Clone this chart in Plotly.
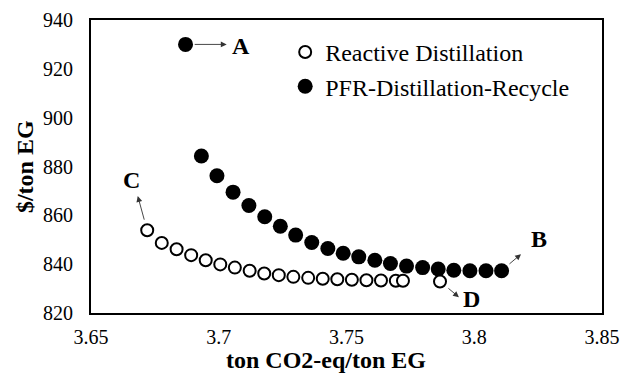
import plotly.graph_objects as go

# ---- data ----
rd_x = [3.6720, 3.6777, 3.6835, 3.6892, 3.6949, 3.7006, 3.7063, 3.7121, 3.7178, 3.7235,
        3.7292, 3.7350, 3.7407, 3.7464, 3.7521, 3.7578, 3.7635, 3.7693, 3.7721, 3.7866]
rd_y = [853.9, 848.7, 846.1, 843.7, 841.6, 839.9, 838.6, 837.3, 836.2, 835.5,
        834.8, 834.4, 834.0, 833.8, 833.6, 833.4, 833.3, 833.2, 833.2, 832.9]

pfr_x = [3.6932, 3.6993, 3.7056, 3.7118, 3.7180, 3.7241, 3.7301, 3.7364, 3.7427, 3.7487,
         3.7548, 3.7611, 3.7672, 3.7735, 3.7798, 3.7859, 3.7920, 3.7983, 3.8046, 3.8107]
pfr_y = [884.3, 876.2, 869.5, 864.0, 859.4, 855.5, 851.9, 848.9, 846.4, 844.5,
         843.0, 841.6, 840.3, 839.2, 838.6, 838.0, 837.5, 837.3, 837.3, 837.3]

point_a_x = [3.687]
point_a_y = [930.0]

x_ticks = [3.65, 3.70, 3.75, 3.80, 3.85]
x_tick_labels = ["3.65", "3.7", "3.75", "3.8", "3.85"]
y_ticks = [820, 840, 860, 880, 900, 920, 940]
y_tick_labels = ["820", "840", "860", "880", "900", "920", "940"]

FONT = "Liberation Serif"

fig = go.Figure()
fig.add_trace(go.Scatter(
    x=pfr_x, y=pfr_y, mode="markers", name="PFR-Distillation-Recycle",
    marker=dict(symbol="circle", size=15, color="black", line=dict(width=0)),
    legendrank=2))
fig.add_trace(go.Scatter(
    x=rd_x, y=rd_y, mode="markers", name="Reactive Distillation",
    marker=dict(symbol="circle", size=12, color="white", line=dict(color="black", width=2)),
    legendrank=1))
fig.add_trace(go.Scatter(
    x=point_a_x, y=point_a_y, mode="markers", showlegend=False,
    marker=dict(symbol="circle", size=15, color="black", line=dict(width=0))))

def arrow(x0, y0, x1, y1):
    fig.add_annotation(x=x1, y=y1, ax=x0, ay=y0, xref="x", yref="y", axref="x", ayref="y",
                       text="", showarrow=True, arrowhead=2, arrowsize=1.3,
                       arrowwidth=0.9, arrowcolor="#333")

def label(x, y, t):
    fig.add_annotation(x=x, y=y, xref="x", yref="y", text=t, showarrow=False,
                       font=dict(family=FONT, size=24, color="black", weight="bold"))

# A
arrow(point_a_x[0] + 0.003, point_a_y[0], point_a_x[0] + 0.0161, point_a_y[0])
label(3.7089, 929.5, "A")
# B
arrow(pfr_x[-1] + 0.0025, pfr_y[-1] + 2.3, pfr_x[-1] + 0.0076, pfr_y[-1] + 6.8)
label(3.8252, 850.4, "B")
# C
arrow(rd_x[0] - 0.001, rd_y[0] + 3.7, rd_x[0] - 0.0037, rd_y[0] + 14.0)
label(3.6658, 874.4, "C")
# D
arrow(rd_x[-1] + 0.0027, rd_y[-1] - 2.3, rd_x[-1] + 0.0074, rd_y[-1] - 6.4)
label(3.7990, 825.9, "D")

# axis titles
fig.add_annotation(x=0.459, y=-0.159, xref="paper", yref="paper",
                   xanchor="center", yanchor="middle",
                   text="<b>ton CO2-eq/ton EG</b>", showarrow=False,
                   font=dict(family=FONT, size=24, color="black"))
fig.add_annotation(x=-0.13, y=0.5, xref="paper", yref="paper",
                   xanchor="center", yanchor="middle", textangle=-90,
                   text="<b>$/ton EG</b>", showarrow=False,
                   font=dict(family=FONT, size=24, color="black"))

fig.update_xaxes(range=[3.65, 3.85], tickvals=x_ticks, ticktext=x_tick_labels,
                 showgrid=False, zeroline=False, showline=True, linecolor="black",
                 linewidth=2, mirror=True, ticks="", ticklabelstandoff=5,
                 automargin=False,
                 tickfont=dict(family=FONT, size=20, color="black"))
fig.update_yaxes(range=[820, 940], tickvals=y_ticks, ticktext=y_tick_labels,
                 showgrid=False, zeroline=False, showline=True, linecolor="black",
                 linewidth=2, mirror=True, ticks="", ticklabelstandoff=12,
                 automargin=False,
                 tickfont=dict(family=FONT, size=20, color="black"))

fig.update_layout(
    width=621, height=375,
    margin=dict(l=91, r=19, t=20, b=62, autoexpand=False),
    paper_bgcolor="white", plot_bgcolor="white",
    font=dict(family=FONT, color="black"),
    legend=dict(x=0.38, y=0.966, xanchor="left", yanchor="top",
                bgcolor="rgba(0,0,0,0)", borderwidth=0,
                font=dict(family=FONT, size=24, color="black"),
                itemwidth=30, tracegroupgap=0),
)

fig.write_html("out.html", config={"displayModeBar": False},
               post_script="document.body.style.margin='0';")
